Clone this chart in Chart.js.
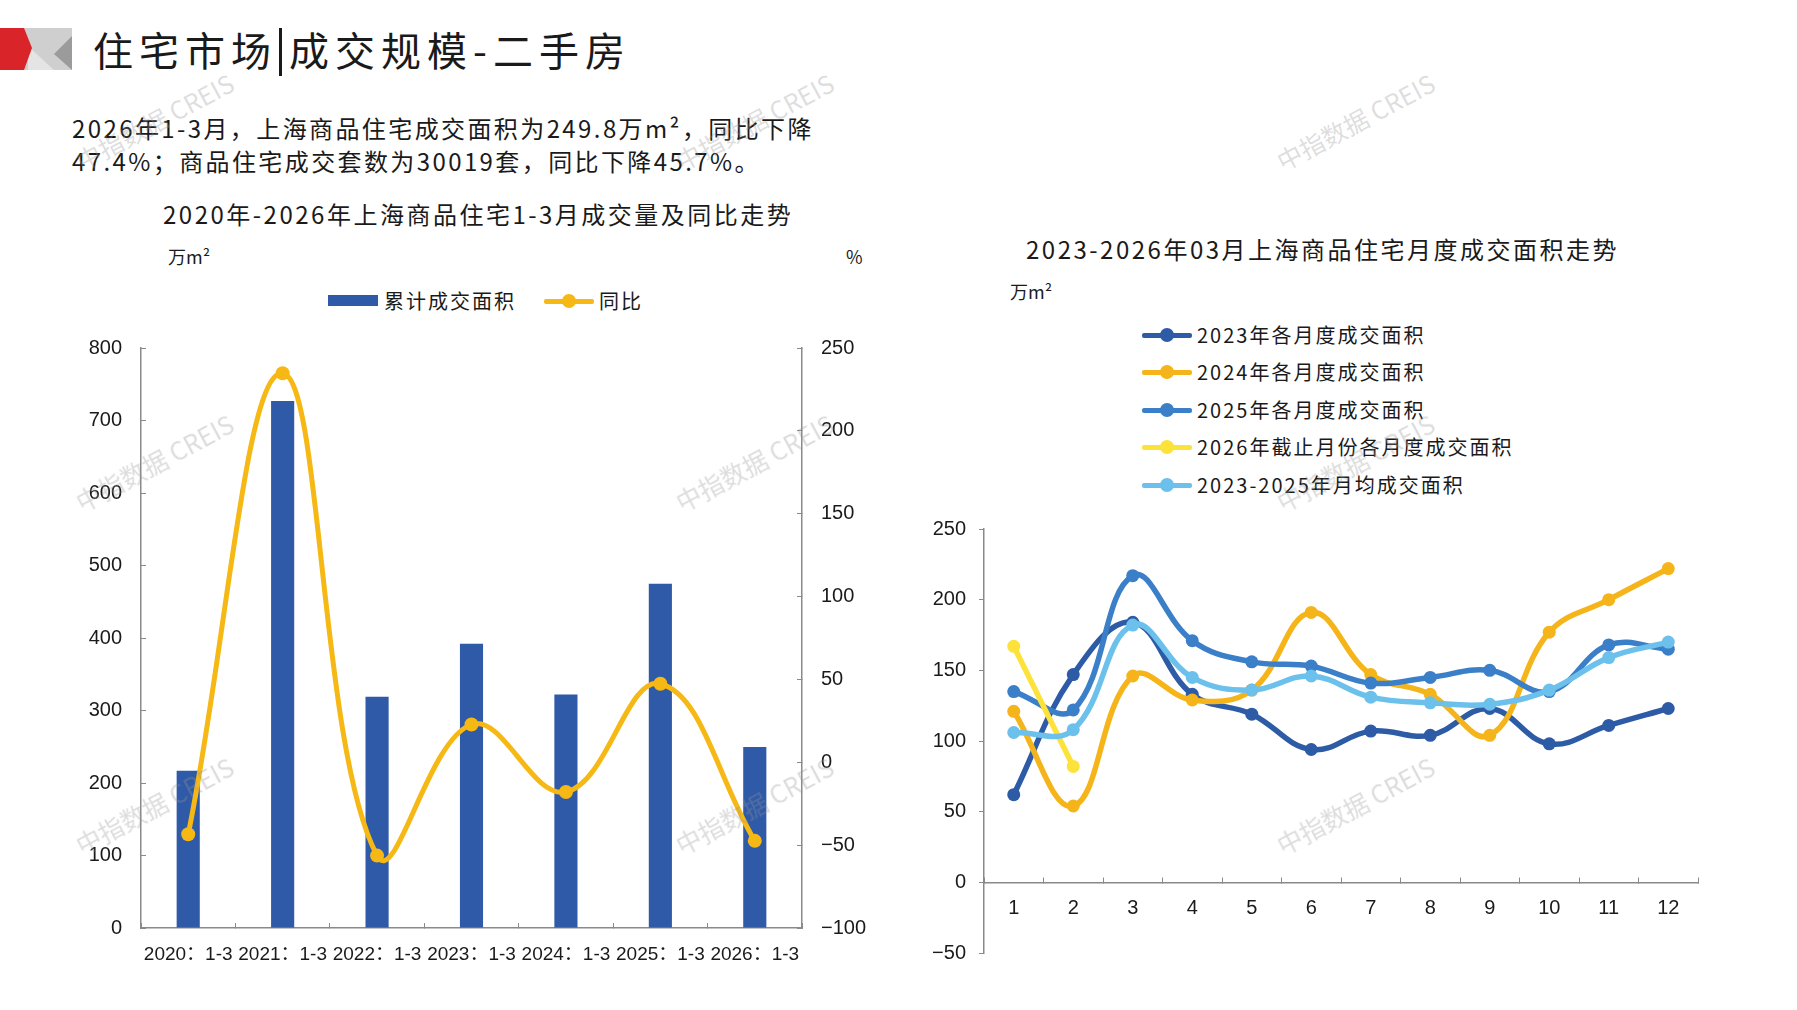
<!DOCTYPE html>
<html>
<head>
<meta charset="utf-8">
<script src="https://cdn.jsdelivr.net/npm/chart.js@4.4.0/dist/chart.umd.min.js"></script>
<style>
  html, body { margin: 0; padding: 0; background: #fff; }
  #page { position: relative; width: 1797px; height: 1010px; overflow: hidden; background: #fff;
          font-family: "Noto Sans CJK SC", "Noto Sans", sans-serif; color: #1a1a1a; }
  .abs { position: absolute; white-space: nowrap; }
  .main-title { left: 93px; top: 21px; font-size: 40px; letter-spacing: 6px; line-height: 56px; }
  .main-title .bar { display: inline-block; width: 3px; height: 48px; background: #1a1a1a; vertical-align: -10px; margin: 0 7px 0 2px; }
  .para { left: 72px; top: 111px; font-size: 24px; letter-spacing: 2.4px; line-height: 33px; }
  .ctitle { font-size: 24px; letter-spacing: 2.5px; line-height: 30px; }
  .unit { font-size: 18px; }
  .box { position: absolute; }
  .lg { position: absolute; display: flex; align-items: center; font-size: 20px; letter-spacing: 2px; white-space: nowrap; }
  .lg .mk { position: relative; width: 50px; height: 14px; margin-right: 5px; }
  .lg .mk .ln { position: absolute; left: 0; right: 0; top: 5px; height: 5px; border-radius: 2px; }
  .lg .mk .dt { position: absolute; left: 18px; top: 0; width: 14px; height: 14px; border-radius: 50%; }
  .lg .rect { width: 50px; height: 11px; margin-right: 6px; }
  .wm { position: absolute; font-family: "Noto Sans CJK SC", sans-serif; font-size: 25px; color: rgba(150,150,150,0.33);
        transform: rotate(-28deg); transform-origin: center; white-space: nowrap; pointer-events: none; }
</style>
</head>
<body>
<div id="page">
  <svg class="abs" style="left:0;top:0" width="80" height="80">
    <rect x="20" y="28" width="52" height="42" fill="#cfcfcf"/>
    <polygon points="28,46 54,70 28,70" fill="#e4e4e4"/>
    <polygon points="72,36 54,54 72,70" fill="#9b9b9b"/>
    <polygon points="0,28 24,28 32,48 24,70 0,70" fill="#d9242a"/>
  </svg>
  <div class="abs main-title">住宅市场<span class="bar"></span>成交规模-二手房</div>
  <div class="abs para">2026年1-3月，上海商品住宅成交面积为249.8万m²，同比下降<br>47.4%；商品住宅成交套数为30019套，同比下降45.7%。</div>

  <div class="abs ctitle" style="left:163px;top:199px">2020年-2026年上海商品住宅1-3月成交量及同比走势</div>
  <div class="abs unit" style="left:168px;top:243px">万m²</div>
  <div class="abs unit" style="left:846px;top:243px">%</div>
  <div id="legendA"></div>
  <div class="box" style="left:40px;top:312px;width:840px;height:678px"><canvas id="chartA"></canvas></div>

  <div class="abs ctitle" style="left:1026px;top:234px">2023-2026年03月上海商品住宅月度成交面积走势</div>
  <div class="abs unit" style="left:1010px;top:278px">万m²</div>
  <div id="legendB"></div>
  <div class="box" style="left:900px;top:500px;width:840px;height:490px"><canvas id="chartB"></canvas></div>
</div>
<script>
// left chart: Q1 totals and year-on-year change
const periods = ['2020：1-3', '2021：1-3', '2022：1-3', '2023：1-3', '2024：1-3', '2025：1-3', '2026：1-3'];
const areaTotals = [217, 727, 319, 392, 322, 475, 249.8];
const yoyChange = [-43.4, 234.8, -56.3, 22.8, -17.9, 47.4, -47.4];
const leftTicks = [0, 100, 200, 300, 400, 500, 600, 700, 800];
const rightTicks = [-100, -50, 0, 50, 100, 150, 200, 250];

// right chart: monthly transaction area
const months = ['1', '2', '3', '4', '5', '6', '7', '8', '9', '10', '11', '12'];
const area2023 = [62, 147, 184, 133, 119, 94, 107, 104, 123, 98, 111, 123];
const area2024 = [121, 54, 146, 129, 136, 191, 147, 133, 104, 177, 200, 222];
const area2025 = [135, 122, 217, 171, 156, 153, 141, 145, 150, 135, 168, 165];
const area2026 = [167, 82];
const areaAvg = [106, 108, 182, 145, 136, 146, 131, 127, 126, 136, 159, 170];
const monthTicks = [-50, 0, 50, 100, 150, 200, 250];

const BLUE_BAR = '#2f5aa7', GOLD = '#f5b814';
const axisColor = '#8a8a8a';
const tickFont = { family: '"Liberation Sans", "Noto Sans CJK SC", sans-serif', size: 20 };

Chart.defaults.color = '#1a1a1a';
Chart.defaults.font = tickFont;

function fixWidth(w) { return s => { s.width = w; }; }
function fixHeight(h) { return s => { s.height = h; }; }
function only(list) { return s => { s.ticks = list.map(v => ({ value: v })); }; }
const minusSign = v => String(v).replace('-', '\u2212');

new Chart(document.getElementById('chartA'), {
  type: 'bar',
  data: {
    labels: periods,
    datasets: [
      { type: 'line', label: '同比', data: yoyChange, yAxisID: 'y1', order: 0,
        borderColor: GOLD, backgroundColor: GOLD, borderWidth: 5, tension: 0.4,
        pointRadius: 7, pointBackgroundColor: GOLD, pointBorderWidth: 0, clip: false },
      { type: 'bar', label: '累计成交面积', data: areaTotals, yAxisID: 'y', order: 1,
        backgroundColor: BLUE_BAR, categoryPercentage: 1, barPercentage: 0.245 }
    ]
  },
  options: {
    responsive: true, maintainAspectRatio: false, animation: false,
    layout: { padding: { top: 19, left: 0, right: 0, bottom: 0 } },
    plugins: { legend: { display: false }, tooltip: { enabled: false } },
    scales: {
      x: { grid: { offset: true, drawOnChartArea: false, drawTicks: true, tickLength: -5, color: axisColor },
           border: { color: axisColor, width: 1.5 },
           ticks: { padding: 20, maxRotation: 0, autoSkip: false, font: { size: 19 } },
           afterFit: fixHeight(62) },
      y: { position: 'left', min: 0, max: 800,
           grid: { drawOnChartArea: false, drawTicks: true, tickLength: -5, color: axisColor },
           border: { color: axisColor, width: 1.5 },
           ticks: { padding: 24 }, afterBuildTicks: only(leftTicks), afterFit: fixWidth(101) },
      y1: { position: 'right', min: -100, max: 250,
           grid: { drawOnChartArea: false, drawTicks: true, tickLength: -5, color: axisColor },
           border: { color: axisColor, width: 1.5 },
           ticks: { padding: 24, callback: minusSign }, afterBuildTicks: only(rightTicks), afterFit: fixWidth(78) }
    }
  }
});

const seriesB = [
  { label: '2023年各月度成交面积', data: area2023, color: '#2d5ba6', order: 4 },
  { label: '2024年各月度成交面积', data: area2024, color: '#f5b51a', order: 3 },
  { label: '2025年各月度成交面积', data: area2025, color: '#3a7fc8', order: 2 },
  { label: '2026年截止月份各月度成交面积', data: area2026, color: '#fde23a', order: 1 },
  { label: '2023-2025年月均成交面积', data: areaAvg, color: '#6cc0ec', order: 0 }
];

new Chart(document.getElementById('chartB'), {
  type: 'line',
  data: {
    labels: months,
    datasets: seriesB.map(s => ({
      label: s.label, data: s.data, order: s.order,
      borderColor: s.color, backgroundColor: s.color, borderWidth: 5.5, tension: 0.4,
      pointRadius: 6.5, pointBackgroundColor: s.color, pointBorderWidth: 0, clip: false
    }))
  },
  options: {
    responsive: true, maintainAspectRatio: false, animation: false,
    layout: { padding: { top: 29, left: 0, right: 42, bottom: 37 } },
    plugins: { legend: { display: false }, tooltip: { enabled: false } },
    scales: {
      x: { position: { y: 0 }, offset: true,
           grid: { offset: true, drawOnChartArea: false, drawTicks: true, tickLength: -6, color: axisColor },
           border: { color: axisColor, width: 1.5 },
           ticks: { padding: 20, maxRotation: 0, autoSkip: false } },
      y: { position: 'left', min: -50, max: 250,
           grid: { drawOnChartArea: false, drawTicks: true, tickLength: 5, color: axisColor },
           border: { color: axisColor, width: 1.5 },
           ticks: { padding: 13, callback: minusSign }, afterBuildTicks: only(monthTicks), afterFit: fixWidth(84) }
    }
  }
});

// HTML legends built from the dataset labels
function lineMarker(color) {
  return '<span class="mk"><span class="ln" style="background:' + color + '"></span><span class="dt" style="background:' + color + '"></span></span>';
}
const legA = document.getElementById('legendA');
legA.innerHTML =
  '<div class="lg" style="left:328px;top:286px"><span class="rect" style="background:' + BLUE_BAR + '"></span>累计成交面积</div>' +
  '<div class="lg" style="left:544px;top:286px">' + lineMarker(GOLD) + '同比</div>';

const legB = document.getElementById('legendB');
const legRows = [333, 370, 408, 445, 483];
legB.innerHTML = seriesB.map((s, i) =>
  '<div class="lg" style="left:1142px;top:' + (legRows[i] - 13) + 'px">' + lineMarker(s.color) + s.label + '</div>'
).join('');

// watermark
const page = document.getElementById('page');
const wmX = [157, 757, 1358], wmY = [121, 462, 805];
wmY.forEach(y => wmX.forEach(x => {
  const d = document.createElement('div');
  d.className = 'wm';
  d.textContent = '中指数据 CREIS';
  d.style.left = (x - 90) + 'px';
  d.style.top = (y - 18) + 'px';
  page.appendChild(d);
}));
</script>
</body>
</html>
